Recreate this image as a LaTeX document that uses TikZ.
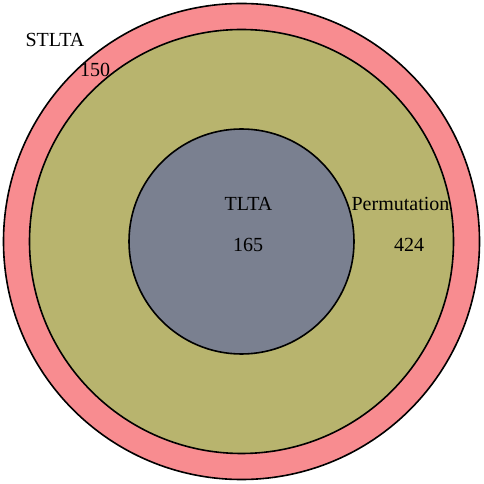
\documentclass[tikz,border=0pt]{standalone}
\usepackage{fontspec}
\setmainfont{Liberation Serif}
\usepackage{xcolor}
\usepackage{tikz}

\definecolor{stltapink}{RGB}{248,140,144}
\definecolor{permolive}{RGB}{184,180,110}
\definecolor{tltagray}{RGB}{122,128,144}

\begin{document}
\begin{tikzpicture}[x=1pt,y=1pt,
  ring/.style={draw=black,line width=1.6pt},
  lbl/.style={anchor=base,inner sep=0pt,font=\fontsize{20}{24}\selectfont}]
\useasboundingbox (0,0) rectangle (484,484);
\filldraw[ring,fill=stltapink] (241.5,242.5) circle (238);
\filldraw[ring,fill=permolive] (241.5,242.5) circle (212);
\filldraw[ring,fill=tltagray] (241.5,242.5) circle (112.5);
\node[lbl] (stlta) at (55,437) {STLTA};
\node[lbl] (stltanum) at (95,407) {150};
\node[lbl] (tlta) at (248.5,273) {TLTA};
\node[lbl] (tltanum) at (248,232) {165};
\node[lbl] (perm) at (400.5,273) {Permutation};
\node[lbl] (permnum) at (409,232) {424};
\end{tikzpicture}
\end{document}
